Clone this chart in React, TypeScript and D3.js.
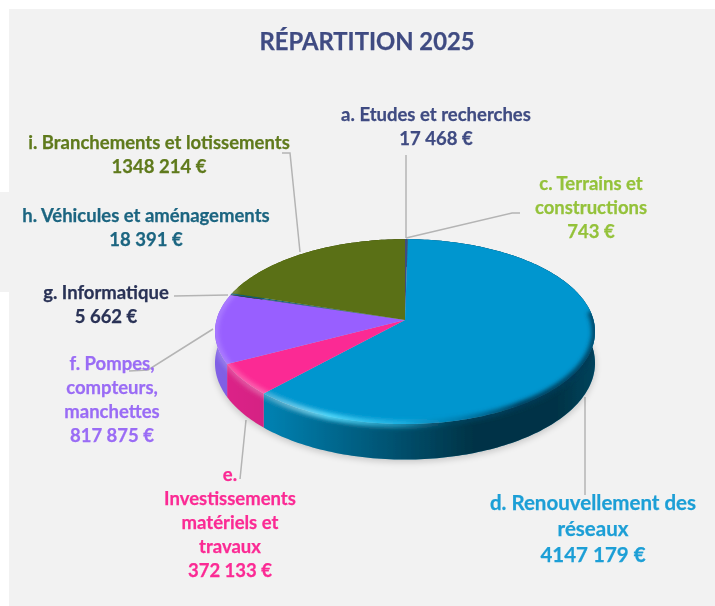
import React from 'react';
import * as d3 from 'd3';

const WIDTH = 715;
const HEIGHT = 606;

const categories = ['a', 'c', 'd', 'e', 'f', 'g', 'h', 'i'];
const amounts = [17468, 743, 4147179, 372133, 817875, 5662, 18391, 1348214];
const topColors = ['#3f4b82', '#94c23a', '#0096cf', '#fb2a94', '#985fff', '#1f2a4d', '#0f5f7d', '#5a7012'];
const wallColors = ['#2f3a66', '#7a9e2e', '#0086b8', '#de2489', '#8060e6', '#1f2a4d', '#0f5f7d', '#465a10'];

const labelLines = [
  ['a. Etudes et recherches', '17 468 €'],
  ['c. Terrains et', 'constructions', '743 €'],
  ['d. Renouvellement des', 'réseaux', '4147 179 €'],
  ['e.', 'Investissements', 'matériels et', 'travaux', '372 133 €'],
  ['f. Pompes,', 'compteurs,', 'manchettes', '817 875 €'],
  ['g. Informatique', '5 662 €'],
  ['h. Véhicules et aménagements', '18 391 €'],
  ['i. Branchements et lotissements', '1348 214 €'],
];
const labelColors = ['#3f4b82', '#94c23a', '#1e9fd6', '#fb2a94', '#9a6cf5', '#2a3357', '#1b6580', '#5f7a1c'];

// where each label block sits: centre x, first baseline, line step, font size
const labelLayout = [
  { x: 436, y: 121, step: 24, size: 18.5 },
  { x: 591, y: 190, step: 24, size: 18.5 },
  { x: 593, y: 510, step: 26, size: 20.5 },
  { x: 230, y: 481, step: 24, size: 18.5 },
  { x: 112, y: 370, step: 24, size: 18.5 },
  { x: 106, y: 299, step: 24, size: 18.5 },
  { x: 146, y: 222, step: 24, size: 18.5 },
  { x: 159, y: 149, step: 24, size: 18.5 },
];

const leaders: [number, number][][] = [
  [[406, 155], [406, 238]],
  [[406, 238], [512, 213], [520, 213]],
  [[585, 397], [585, 495]],
  [[240, 479], [246, 420]],
  [[129, 371], [148, 370], [213, 329]],
  [[174, 296], [228, 295]],
  [],
  [[282, 153], [290, 153], [300, 252]],
];

// tilted disc with a bit of perspective, back edge is flatter than front edge
const cx = 405;
const cy = 320;
const radiusX = 188.5;
const radiusY = 91;
const persp = 0.1257;
const depth = 31;

const project = (angle: number, drop = 0): [number, number] => {
  const u = Math.sin(angle);
  const v = Math.cos(angle);
  const s = 1 / (1 + persp * v);
  return [cx + radiusX * u * s, cy - radiusY * v * s + drop * s];
};

const arcPoints = (a0: number, a1: number, drop = 0) => {
  const n = Math.max(2, Math.ceil((a1 - a0) / 0.02));
  return d3.range(n + 1).map(i => project(a0 + ((a1 - a0) * i) / n, drop));
};

const line = d3.line();

const pieData = d3.pie<number>().sort(null)(amounts);
const fullCircle = arcPoints(0, Math.PI * 2, depth);
const topDisc = arcPoints(0, Math.PI * 2);

export default function App() {
  return (
    <svg
      width={WIDTH}
      height={HEIGHT}
      viewBox={`0 0 ${WIDTH} ${HEIGHT}`}
      style={{ position: 'absolute', left: 0, top: 0, fontFamily: 'Lato, sans-serif', fontWeight: 700 }}
    >
      <defs>
        <linearGradient id="wallShade" gradientUnits="userSpaceOnUse" x1={215} x2={595} y1={0} y2={0}>
          <stop offset="0" stopColor="#000" stopOpacity={0} />
          <stop offset="0.15" stopColor="#000" stopOpacity={0.05} />
          <stop offset="0.68" stopColor="#000" stopOpacity={0.62} />
          <stop offset="0.9" stopColor="#000" stopOpacity={0.62} />
          <stop offset="1" stopColor="#000" stopOpacity={0.5} />
        </linearGradient>
        <linearGradient id="rimShade" gradientUnits="userSpaceOnUse" x1={215} x2={595} y1={0} y2={0}>
          <stop offset="0" stopColor="#fff" stopOpacity={0.16} />
          <stop offset="0.14" stopColor="#fff" stopOpacity={0.28} />
          <stop offset="0.3" stopColor="#5ce0ff" stopOpacity={0.9} />
          <stop offset="0.5" stopColor="#3cc8f0" stopOpacity={0.5} />
          <stop offset="0.62" stopColor="#00567c" stopOpacity={0.3} />
          <stop offset="0.8" stopColor="#003a56" stopOpacity={0.95} />
          <stop offset="1" stopColor="#003a56" stopOpacity={0.85} />
        </linearGradient>
        <filter id="soft" x="-20%" y="-20%" width="140%" height="140%">
          <feGaussianBlur stdDeviation="3.5" />
        </filter>
        <filter id="rimBlur" x="-5%" y="-10%" width="110%" height="120%">
          <feGaussianBlur stdDeviation="2" />
        </filter>
        <filter id="tiny" x="-5%" y="-5%" width="110%" height="110%">
          <feGaussianBlur stdDeviation="0.5" />
        </filter>
        <filter id="textBlur" x="-5%" y="-10%" width="110%" height="120%">
          <feGaussianBlur stdDeviation="0.3" />
        </filter>
        <clipPath id="pieClip">
          <path d={`${line(topDisc)}Z`} />
          {pieData.map((d, i) => (
            <path
              key={categories[i]}
              d={`${line([...arcPoints(d.startAngle, d.endAngle), ...arcPoints(d.startAngle, d.endAngle, depth).reverse()])}Z`}
            />
          ))}
        </clipPath>
      </defs>

      <rect width={WIDTH} height={HEIGHT} fill="#fff" />
      <rect x={9} y={9} width={WIDTH - 9} height={HEIGHT - 9} fill="#f2f2f2" />
      <rect x={0} y={192} width={9} height={100} fill="#f2f2f2" />

      <text x={367} y={50} textAnchor="middle" fontSize={23.8} fill="#3f4b82" stroke="#3f4b82" strokeWidth={0.25} filter="url(#textBlur)">
        RÉPARTITION 2025
      </text>

      {leaders.map((pts, i) => (
        <path key={i} d={line(pts) ?? ''} fill="none" stroke="#b4b4b4" strokeWidth={1.5} />
      ))}

      <path d={`${line(fullCircle)}Z`} fill="#000" opacity={0.2} filter="url(#soft)" transform="translate(0,2)" />

      <g filter="url(#tiny)">
        {/* side walls first, the top face covers the back halves */}
        {pieData.map((d, i) => {
          const ring = [...arcPoints(d.startAngle, d.endAngle), ...arcPoints(d.startAngle, d.endAngle, depth).reverse()];
          return (
            <g key={categories[i]}>
              <path d={`${line(ring)}Z`} fill={wallColors[i]} />
              <path d={`${line(ring)}Z`} fill="url(#wallShade)" />
            </g>
          );
        })}

        {pieData.map((d, i) => (
          <path
            key={categories[i]}
            d={`${line([[cx, cy], ...arcPoints(d.startAngle, d.endAngle)])}Z`}
            fill={topColors[i]}
          />
        ))}

        {/* bevel along the front rim: bright on the left, dark on the right */}
        <g clipPath="url(#pieClip)">
          <path
            d={line(arcPoints(Math.PI * 0.47, Math.PI * 1.62)) ?? ''}
            fill="none"
            stroke="url(#rimShade)"
            strokeWidth={7}
            filter="url(#rimBlur)"
          />
        </g>
      </g>

      {labelLines.map((lines, i) => (
        <text
          key={categories[i]}
          textAnchor="middle"
          fontSize={labelLayout[i].size}
          fill={labelColors[i]}
          stroke={labelColors[i]}
          strokeWidth={0.25}
          filter="url(#textBlur)"
        >
          {lines.map((t, j) => (
            <tspan key={j} x={labelLayout[i].x} y={labelLayout[i].y + j * labelLayout[i].step}>{t}</tspan>
          ))}
        </text>
      ))}
    </svg>
  );
}
